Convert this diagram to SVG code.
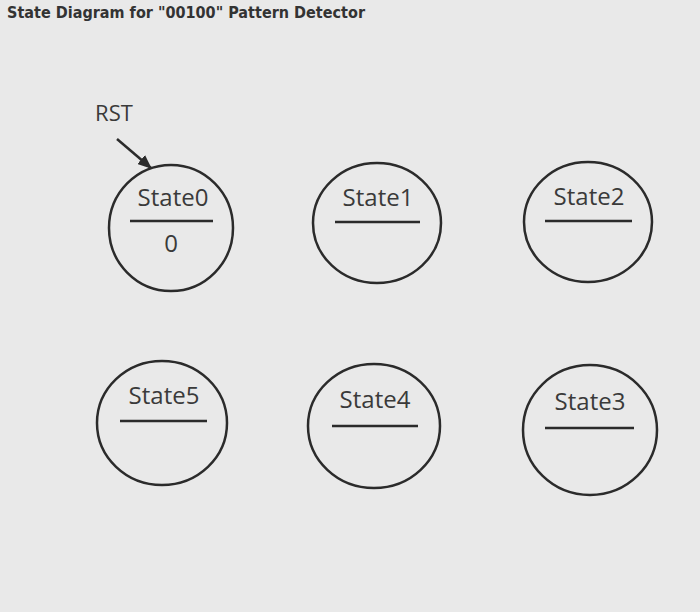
<svg xmlns="http://www.w3.org/2000/svg" width="700" height="612" viewBox="0 0 700 612">
<defs>
<style>
.st{fill:none;stroke:#2b2b2b;stroke-width:2.5}
.bar{stroke:#2b2b2b;stroke-width:2.5}
.lbl{font-family:"Open Sans","Liberation Sans",sans-serif;font-size:24px;fill:#3a3a3a;text-anchor:middle}
.rst{font-family:"Open Sans","Liberation Sans",sans-serif;font-size:22px;fill:#3a3a3a;text-anchor:middle}
.title{font-family:"DejaVu Sans","Liberation Sans",sans-serif;font-weight:bold;font-size:15px;fill:#333}
</style>
<marker id="ah" markerWidth="14" markerHeight="12" refX="13" refY="6" orient="auto" markerUnits="userSpaceOnUse">
<path d="M0,0 L14,6 L0,12 z" fill="#2b2b2b"/>
</marker>
</defs>
<rect width="700" height="612" fill="#e9e9e9"/>
<text class="title" x="7" y="18" textLength="358" lengthAdjust="spacingAndGlyphs">State Diagram for "00100" Pattern Detector</text>
<g id="connectors">
<text class="rst" x="114" y="121">RST</text>
<line x1="117" y1="139" x2="151" y2="168" stroke="#2b2b2b" stroke-width="2.5" marker-end="url(#ah)"/>
</g>
<g id="state0">
<ellipse class="st" cx="171" cy="228" rx="62" ry="63"/>
<text class="lbl" x="173" y="206">State0</text>
<line class="bar" x1="130" y1="221" x2="213" y2="221"/>
<text class="lbl" x="171" y="252">0</text>
</g>
<g id="state1">
<ellipse class="st" cx="377" cy="223" rx="64" ry="60"/>
<text class="lbl" x="378" y="206">State1</text>
<line class="bar" x1="335" y1="222" x2="420" y2="222"/>
</g>
<g id="state2">
<ellipse class="st" cx="588" cy="222" rx="64" ry="60"/>
<text class="lbl" x="589" y="205">State2</text>
<line class="bar" x1="545" y1="221" x2="632" y2="221"/>
</g>
<g id="state5">
<ellipse class="st" cx="162" cy="423" rx="65" ry="62"/>
<text class="lbl" x="164" y="404">State5</text>
<line class="bar" x1="120" y1="421" x2="207" y2="421"/>
</g>
<g id="state4">
<ellipse class="st" cx="374" cy="426" rx="66" ry="62"/>
<text class="lbl" x="375" y="408">State4</text>
<line class="bar" x1="332" y1="426" x2="418" y2="426"/>
</g>
<g id="state3">
<ellipse class="st" cx="590" cy="430" rx="67" ry="65"/>
<text class="lbl" x="590" y="410">State3</text>
<line class="bar" x1="545" y1="428" x2="634" y2="428"/>
</g>
</svg>
